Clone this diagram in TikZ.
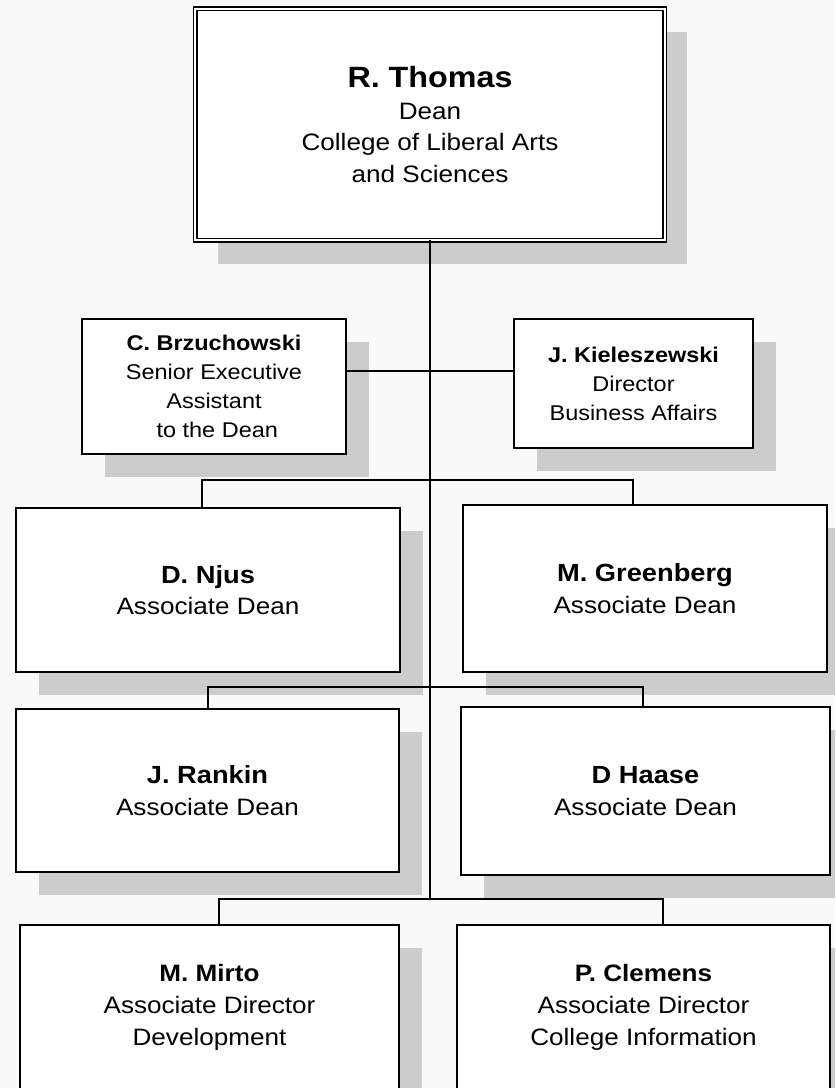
\documentclass[tikz,border=0pt]{standalone}
\usepackage{fontspec}
\setmainfont{Liberation Sans}[FakeStretch=1.1]
\usetikzlibrary{shadows}
\definecolor{bg}{HTML}{F9F9F9}
\definecolor{shadowgray}{HTML}{CCCCCC}
\begin{document}
\begin{tikzpicture}[x=0.75pt,y=-0.75pt,
  every node/.style={outer sep=0pt, inner sep=0pt, align=center},
  shadowed/.style={drop shadow={shadow xshift=17pt, shadow yshift=-17.5pt, fill=shadowgray, opacity=1}},
  orgbox/.style={rectangle, draw=black, line width=1.3pt, fill=white, shadowed},
  deanbox/.style={rectangle, draw=black, double, double distance=1.6pt, line width=1.1pt, fill=white, shadowed,
    font=\fontsize{17.8pt}{23.6pt}\selectfont},
  smalltext/.style={font=\fontsize{16pt}{21.75pt}\selectfont},
  rowtext/.style={font=\fontsize{17.8pt}{23.6pt}\selectfont},
  lowtext/.style={font=\fontsize{17.8pt}{24pt}\selectfont},
  conn/.style={draw=black, line width=1.5pt}]
\useasboundingbox (0,0) rectangle (835,1088);
\clip (0,0) rectangle (835,1088);
\fill[bg] (0,0) rectangle (835,1088);

% boxes
\node[deanbox, minimum width=352.2pt, minimum height=173.7pt] (dean) at (430,124.5)
  {{\fontsize{22pt}{23.6pt}\selectfont\bfseries R. Thomas}\\Dean\\College of Liberal Arts\\and Sciences};

\node[orgbox, smalltext, minimum width=198pt, minimum height=101.25pt] (brz) at (214,386.5)
  {\textbf{C. Brzuchowski}\\Senior Executive\\Assistant\\\ to the Dean};
\node[orgbox, smalltext, minimum width=179.25pt, minimum height=96.75pt] (kiel) at (633.5,383.5)
  {\textbf{J. Kieleszewski}\\Director\\Business Affairs};

\node[orgbox, rowtext, minimum width=288pt, minimum height=123pt] (njus) at (208,590)
  {{\fontsize{18.6pt}{23.6pt}\selectfont\bfseries D. Njus}\\Associate Dean};
\node[orgbox, rowtext, minimum width=273pt, minimum height=125.25pt] (green) at (645,588.5)
  {{\fontsize{18.6pt}{23.6pt}\selectfont\bfseries M. Greenberg}\\Associate Dean};

\node[orgbox, rowtext, minimum width=287.25pt, minimum height=122.25pt] (rankin) at (207.5,790.5)
  {{\fontsize{18.6pt}{23.6pt}\selectfont\bfseries J. Rankin}\\Associate Dean};
\node[orgbox, rowtext, minimum width=276.75pt, minimum height=126pt] (haase) at (645.5,791)
  {{\fontsize{18.6pt}{23.6pt}\selectfont\bfseries D Haase}\\Associate Dean};

\node[orgbox, lowtext, minimum width=284.25pt, minimum height=123pt] (mirto) at (209.5,1007)
  {{\fontsize{17.8pt}{24pt}\selectfont\bfseries M. Mirto}\\Associate Director\\Development};
\node[orgbox, lowtext, minimum width=279.75pt, minimum height=123pt] (clemens) at (643.5,1007)
  {{\fontsize{17.8pt}{24pt}\selectfont\bfseries P. Clemens}\\Associate Director\\College Information};

% junction coordinates
\coordinate (j1) at (430,371);
\coordinate (c1) at (202,480);
\coordinate (c2) at (633,480);
\coordinate (c3) at (208,687);
\coordinate (c4) at (643,687);
\coordinate (c5) at (219,899);
\coordinate (c6) at (663,899);
\coordinate (trunkend) at (430,899);

% connectors
\draw[conn] (dean.south) -- (trunkend);
\draw[conn] (j1 -| brz.east) -- (j1 -| kiel.west);
\draw[conn] (c1 |- njus.north) -- (c1) -- (c2) -- (c2 |- green.north);
\draw[conn] (c3 |- rankin.north) -- (c3) -- (c4) -- (c4 |- haase.north);
\draw[conn] (c5 |- mirto.north) -- (c5) -- (c6) -- (c6 |- clemens.north);
\end{tikzpicture}
\end{document}
